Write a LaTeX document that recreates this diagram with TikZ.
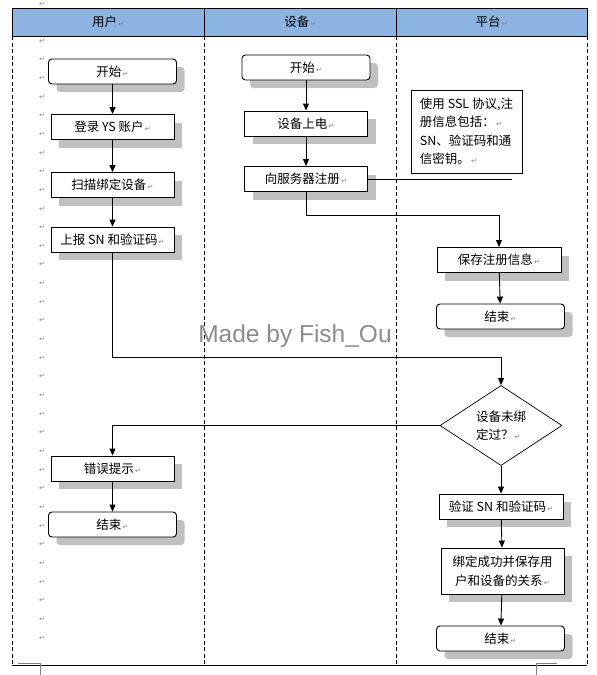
\documentclass[tikz,border=0pt]{standalone}
\usepackage{fontspec}
\setmainfont{Noto Sans CJK SC}
\newfontfamily\symf{DejaVu Sans}
\newfontfamily\wmf{Liberation Sans}
\usetikzlibrary{shapes.geometric,shadows,arrows.meta,calc}
\definecolor{hdrblue}{RGB}{141,179,226}
\definecolor{shadowgray}{RGB}{192,192,192}
\definecolor{retgray}{RGB}{128,128,128}
\definecolor{wmgray}{RGB}{140,140,140}
\newcommand\rt{{\symf\fontsize{7}{7}\selectfont\color{retgray}\,↵}}
\tikzset{
  lbl/.style={font=\fontsize{12.5}{18.5}\selectfont},
  boxshadow/.style={drop shadow={shadow xshift=8pt,shadow yshift=-8pt,fill=shadowgray,opacity=1}},
  box/.style={lbl,draw,line width=0.9pt,fill=white,minimum width=123pt,minimum height=25pt,inner sep=0pt,boxshadow},
  rbox/.style={box,rounded corners=3.5pt,minimum width=128pt},
  dia/.style={lbl,draw,line width=0.7pt,fill=white,diamond,minimum width=122pt,minimum height=75pt,inner sep=0pt,align=left},
  note/.style={lbl,draw,line width=0.9pt,fill=white,minimum width=111pt,minimum height=83pt,inner sep=0pt,align=left},
  hdr/.style={lbl,draw,line width=0.9pt,fill=hdrblue,minimum height=28pt,inner sep=0pt},
  lane/.style={line width=0.8pt,dash pattern=on 4pt off 2.5pt},
  conn/.style={line width=0.9pt},
  arr/.style={conn,-{Triangle[length=7pt,width=6pt]}},
  ret/.style={inner sep=0pt,font=\symf\fontsize{7}{7}\selectfont,text=retgray},
  cropmark/.style={draw=retgray,line width=0.8pt}
}
\begin{document}
\begin{tikzpicture}[x=1pt,y=-1pt]
\useasboundingbox (0,0) rectangle (597,675);
% header
\node[hdr,minimum width=192.5pt] (hUser) at (108.25,22) {用户\rt};
\node[hdr,minimum width=192pt] (hDev) at (300.5,22) {设备\rt};
\node[hdr,minimum width=190.5pt] (hPlat) at (491.75,22) {平台\rt};
% lanes
\coordinate (l1t) at (12,36); \coordinate (l1b) at (12,664);
\coordinate (l2t) at (204.5,36); \coordinate (l2b) at (204.5,664);
\coordinate (l3t) at (396.5,36); \coordinate (l3b) at (396.5,664);
\coordinate (l4t) at (587,36); \coordinate (l4b) at (587,664);
\draw[lane] (l1t) -- (l1b);
\draw[lane] (l2t) -- (l2b);
\draw[lane] (l3t) -- (l3b);
\draw[lane] (l4t) -- (l4b);
% bottom line and crop marks
\coordinate (bl) at (12,665); \coordinate (br) at (587,665);
\draw[line width=0.9pt] (bl) -- (br);
\coordinate (c1a) at (18,663); \coordinate (c1b) at (40,663); \coordinate (c1c) at (40,675);
\coordinate (c2a) at (557,663); \coordinate (c2b) at (536,663); \coordinate (c2c) at (536,675);
\draw[cropmark] (c1a) -- (c1b) -- (c1c);
\draw[cropmark] (c2a) -- (c2b) -- (c2c);
% paragraph marks
\node[ret] (m0) at (42,4) {↵};
\foreach \k in {0,...,32} {\node[ret] (mk\k) at (42,{41+18.65*\k}) {↵};}
% watermark
\node[font=\wmf\fontsize{24.5}{24.5}\selectfont,text=wmgray,inner sep=0pt] (wm) at (295,336) {Made by Fish\_Ou};
% user lane
\node[rbox] (uStart) at (112.5,71.5) {开始\rt};
\node[box] (uLogin) at (112.5,127) {登录 YS 账户\rt};
\node[box] (uScan) at (112.5,185) {扫描绑定设备\rt};
\node[box] (uReport) at (112.5,239.5) {上报 SN 和验证码\rt};
\node[box] (uErr) at (112.5,468.5) {错误提示\rt};
\node[rbox] (uEnd) at (112.5,524.5) {结束\rt};
% device lane
\node[rbox] (dStart) at (306,67.5) {开始\rt};
\node[box] (dPower) at (306,123.5) {设备上电\rt};
\node[box] (dReg) at (306,179) {向服务器注册\rt};
% platform lane
\node[note] (pNote) at (466.5,131.5) {使用 SSL 协议,注\\册信息包括：\rt\\SN、验证码和通\\信密钥。\rt};
\node[box,minimum width=124pt] (pSave) at (499,260) {保存注册信息\rt};
\node[rbox] (pEnd1) at (500.5,316.5) {结束\rt};
\node[dia] (pDia) at (501,425.5) {设备未绑\\定过？\rt};
\node[box,minimum width=124pt] (pVerify) at (501,506.5) {验证 SN 和验证码\rt};
\node[box,minimum height=46pt,align=center] (pBind) at (502.5,571) {绑定成功并保存用\\户和设备的关系\rt};
\node[rbox] (pEnd2) at (500.5,638.5) {结束\rt};
% connectors
\draw[arr] (uStart) -- (uLogin);
\draw[arr] (uLogin) -- (uScan);
\draw[arr] (uScan) -- (uReport);
\draw[arr] (uErr) -- (uEnd);
\draw[arr] (dStart) -- (dPower);
\draw[arr] (dPower) -- (dReg);
\coordinate (noteEnd) at (512,179);
\draw[conn] (dReg.east) -- (noteEnd);
\coordinate (j0) at (306,215);
\draw[arr] (dReg.south) -- (j0) -| (pSave.north);
\draw[arr] (pSave) -- (pEnd1);
\coordinate (j1) at (501,357);
\draw[arr] (uReport.south) |- (j1) -- (pDia.north);
\draw[arr] (pDia.west) -| (uErr.north);
\draw[arr] (pDia.south) -- (pVerify.north);
\draw[arr] (pVerify) -- (pBind);
\draw[arr] (pBind) -- (pEnd2);
\end{tikzpicture}
\end{document}
